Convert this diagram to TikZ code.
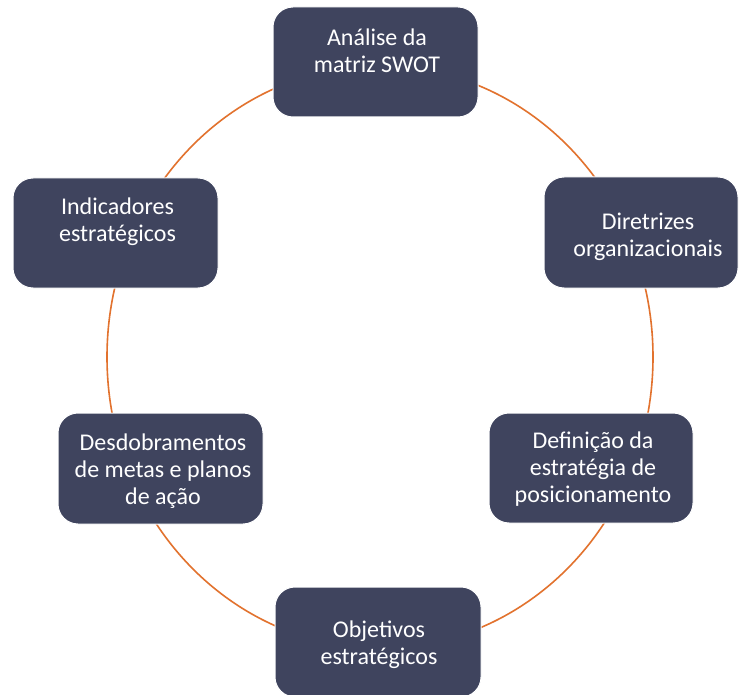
\documentclass[tikz,border=0pt]{standalone}
\usepackage{fontspec}
\setmainfont{Carlito}
\definecolor{boxfill}{HTML}{3F445E}
\definecolor{ringcol}{HTML}{E2722E}
\begin{document}
\begin{tikzpicture}[x=1pt,y=-1pt,
  stagebox/.style={fill=boxfill, draw=white, line width=1pt, rounded corners=20pt, inner sep=0pt},
  stagetext/.style={text=white, align=center, font=\fontsize{24}{27}\selectfont, inner sep=0pt}]
\useasboundingbox (0,0) rectangle (739,695);
\clip (0,0) rectangle (739,695);
\fill[white] (0,0) rectangle (739,695);
\draw[ringcol, line width=1.6pt] (380,357) ellipse [x radius=273, y radius=291];
% boxes
\node[stagebox, minimum width=205pt, minimum height=110pt] (b1) at (375.5,62) {};
\node[stagebox, minimum width=194pt, minimum height=111pt] (b2) at (641,232.5) {};
\node[stagebox, minimum width=204pt, minimum height=110pt] (b3) at (591,468) {};
\node[stagebox, minimum width=206pt, minimum height=110pt] (b4) at (378,642) {};
\node[stagebox, minimum width=205pt, minimum height=111pt] (b5) at (160.5,468.5) {};
\node[stagebox, minimum width=205pt, minimum height=110pt] (b6) at (115.5,233) {};
% texts
\node[stagetext] (t1) at (377,53.6) {\strut Análise da\\matriz SWOT\strut};
\node[stagetext] (t2) at (648,238) {\strut Diretrizes\\organizacionais\strut};
\node[stagetext] (t3) at (593,469.6) {\strut Definição da\\estratégia de\\posicionamento\strut};
\node[stagetext] (t4) at (379,645.6) {\strut Objetivos\\estratégicos\strut};
\node[stagetext] (t5) at (163,472.3) {\strut Desdobramentos\\de metas e planos\\de ação\strut};
\node[stagetext] (t6) at (117.5,223) {\strut Indicadores\\estratégicos\strut};
\end{tikzpicture}
\end{document}
